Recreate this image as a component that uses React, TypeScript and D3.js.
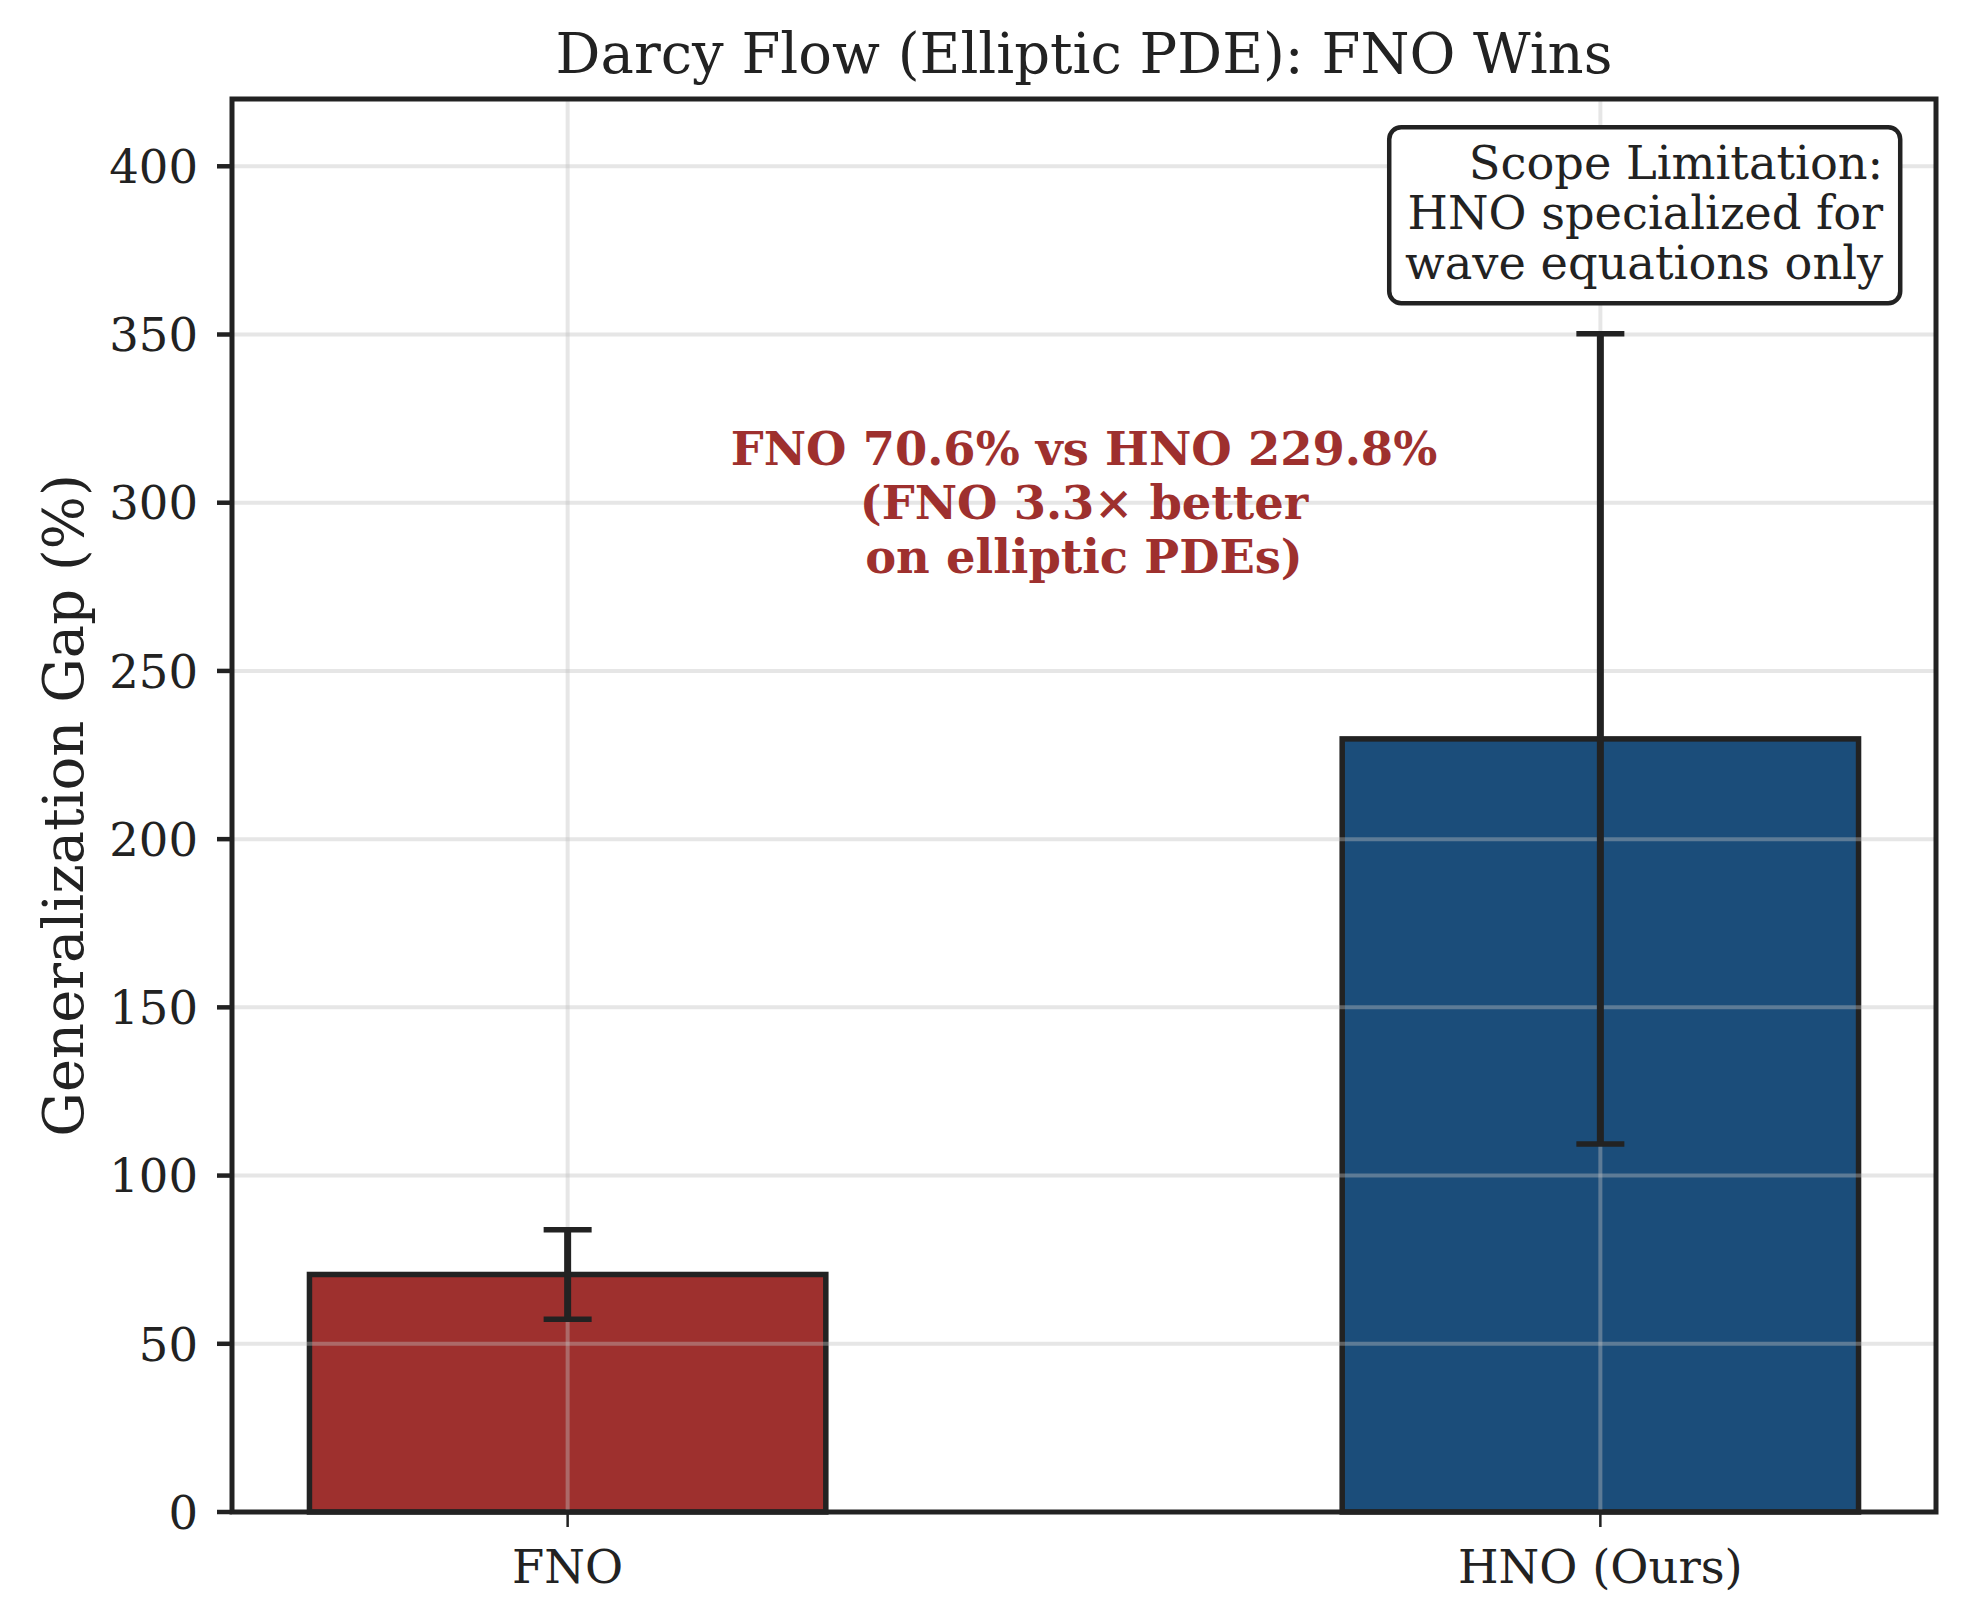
import React from "react";
import * as d3 from "d3";

const categories = ["FNO", "HNO (Ours)"];
const values = [70.6, 229.8];
const errors = [13.3, 120.4];
const barColors = ["#9e302e", "#1b4d7a"];
const yTicks = [0, 50, 100, 150, 200, 250, 300, 350, 400];
const titleText = "Darcy Flow (Elliptic PDE): FNO Wins";
const yLabelText = "Generalization Gap (%)";
const annotationLines = ["FNO 70.6% vs HNO 229.8%", "(FNO 3.3× better", "on elliptic PDEs)"];
const boxLines = ["Scope Limitation:", "HNO specialized for", "wave equations only"];

const W = 1967;
const H = 1606;
const M = { left: 232, right: 1936, top: 99, bottom: 1512 };
const FONT = "'DejaVu Serif', serif";
const INK = "#222222";

export default function App() {
  const x = d3.scaleLinear().domain([-0.325, 1.325]).range([M.left, M.right]);
  const y = d3.scaleLinear().domain([0, 420]).range([M.bottom, M.top]);
  const barW = 0.5;
  const capHalf = 24;

  const annX = x(0.5);
  const annY = y(300);
  const annLH = 54;

  const boxRight = M.left + (M.right - M.left) * 0.979;
  const boxTop = M.top + (M.bottom - M.top) * 0.02;
  const boxW = 511;
  const boxH = 176;
  const boxLH = 50;

  return (
    <div style={{ position: "absolute", left: 0, top: 0 }}>
      <svg width={W} height={H} viewBox={`0 0 ${W} ${H}`} style={{ display: "block", background: "#fff" }}>
        <rect x={0} y={0} width={W} height={H} fill="#fff" />
        {/* bars */}
        {categories.map((c, i) => (
          <rect
            key={c}
            x={x(i - barW / 2)}
            y={y(values[i])}
            width={x(i + barW / 2) - x(i - barW / 2)}
            height={y(0) - y(values[i])}
            fill={barColors[i]}
            stroke={INK}
            strokeWidth={5.5}
          />
        ))}
        {/* grid */}
        <g stroke="#c0c0c0" strokeOpacity={0.4} strokeWidth={4}>
          {yTicks.map((t) => (
            <line key={"gy" + t} x1={M.left} x2={M.right} y1={y(t)} y2={y(t)} />
          ))}
          {categories.map((c, i) => (
            <line key={"gx" + c} x1={x(i)} x2={x(i)} y1={M.top} y2={M.bottom} />
          ))}
        </g>
        {/* error bars */}
        {categories.map((c, i) => (
          <g key={"e" + c} stroke={INK}>
            <line x1={x(i)} x2={x(i)} y1={y(values[i] + errors[i])} y2={y(values[i] - errors[i])} strokeWidth={7} />
            <line x1={x(i) - capHalf} x2={x(i) + capHalf} y1={y(values[i] + errors[i])} y2={y(values[i] + errors[i])} strokeWidth={5.5} />
            <line x1={x(i) - capHalf} x2={x(i) + capHalf} y1={y(values[i] - errors[i])} y2={y(values[i] - errors[i])} strokeWidth={5.5} />
          </g>
        ))}
        {/* spines */}
        <rect x={M.left} y={M.top} width={M.right - M.left} height={M.bottom - M.top} fill="none" stroke={INK} strokeWidth={5} />
        {/* y ticks */}
        {yTicks.map((t) => (
          <g key={"yt" + t}>
            <line x1={M.left - 15} x2={M.left} y1={y(t)} y2={y(t)} stroke={INK} strokeWidth={4.5} />
            <text x={M.left - 34} y={y(t)} dy="0.36em" textAnchor="end" fontFamily={FONT} fontSize={46.5} fill={INK}>
              {t}
            </text>
          </g>
        ))}
        {/* x ticks */}
        {categories.map((c, i) => (
          <g key={"xt" + c}>
            <line x1={x(i)} x2={x(i)} y1={M.bottom} y2={M.bottom + 15} stroke={INK} strokeWidth={2.5} />
            <text x={x(i)} y={1583} textAnchor="middle" fontFamily={FONT} fontSize={46.5} fill={INK}>
              {c}
            </text>
          </g>
        ))}
        {/* title */}
        <text x={(M.left + M.right) / 2} y={73} textAnchor="middle" fontFamily={FONT} fontSize={56} fill={INK}>
          {titleText}
        </text>
        {/* y label */}
        <text
          transform={`translate(${63},${(M.top + M.bottom) / 2}) rotate(-90)`}
          dy="0.36em"
          textAnchor="middle"
          fontFamily={FONT}
          fontSize={56}
          fill={INK}
        >
          {yLabelText}
        </text>
        {/* annotation */}
        <text textAnchor="middle" fontFamily={FONT} fontSize={46.4} fontWeight="bold" fill="#9e302e">
          {annotationLines.map((l, k) => (
            <tspan key={k} x={annX} y={annY + 16 + (k - 1) * annLH}>
              {l}
            </tspan>
          ))}
        </text>
        {/* scope box */}
        <rect
          x={boxRight - boxW}
          y={boxTop}
          width={boxW}
          height={boxH}
          rx={12}
          ry={12}
          fill="#fff"
          stroke={INK}
          strokeWidth={4.5}
        />
        <text textAnchor="end" fontFamily={FONT} fontSize={46.3} fill={INK}>
          {boxLines.map((l, k) => (
            <tspan key={k} x={boxRight - 17} y={boxTop + 52 + k * boxLH}>
              {l}
            </tspan>
          ))}
        </text>
      </svg>
    </div>
  );
}
